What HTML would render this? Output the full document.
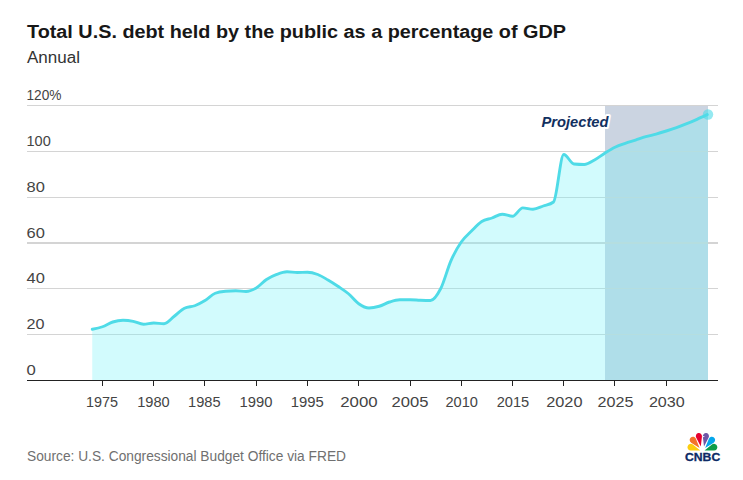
<!DOCTYPE html>
<html><head><meta charset="utf-8"><title>Total U.S. debt held by the public as a percentage of GDP</title>
<style>
html,body{margin:0;padding:0;background:#fff;}
body{width:743px;height:480px;overflow:hidden;position:relative;font-family:"Liberation Sans",sans-serif;}
svg{position:absolute;left:0;top:0;}
text{font-family:"Liberation Sans",sans-serif;}
</style></head><body>
<svg width="743" height="480" viewBox="0 0 743 480">
<rect width="743" height="480" fill="#ffffff"/>
<text x="27" y="38" font-size="18" font-weight="700" fill="#171717" textLength="539" lengthAdjust="spacingAndGlyphs">Total U.S. debt held by the public as a percentage of GDP</text>
<text x="27" y="63" font-size="16" fill="#333333" textLength="53" lengthAdjust="spacingAndGlyphs">Annual</text>
<rect x="605" y="105" width="103" height="275.5" fill="#cbd4e1"/>
<g stroke="#d4d4d4" stroke-width="1" shape-rendering="crispEdges"><line x1="27" x2="718" y1="105.5" y2="105.5"/><line x1="27" x2="718" y1="151.5" y2="151.5"/><line x1="27" x2="718" y1="197.5" y2="197.5"/><line x1="27" x2="718" y1="242.5" y2="242.5"/><line x1="27" x2="718" y1="243.5" y2="243.5"/><line x1="27" x2="718" y1="288.5" y2="288.5"/><line x1="27" x2="718" y1="334.5" y2="334.5"/></g>
<g font-size="14" fill="#444444"><text x="26.5" y="100.0" textLength="35.0" lengthAdjust="spacingAndGlyphs">120%</text><text x="26.5" y="146.0" textLength="24.2" lengthAdjust="spacingAndGlyphs">100</text><text x="26.5" y="192.0" textLength="18.3" lengthAdjust="spacingAndGlyphs">80</text><text x="26.5" y="237.5" textLength="18.3" lengthAdjust="spacingAndGlyphs">60</text><text x="26.5" y="283.0" textLength="18.3" lengthAdjust="spacingAndGlyphs">40</text><text x="26.5" y="329.0" textLength="18.0" lengthAdjust="spacingAndGlyphs">20</text><text x="26.5" y="374.5" textLength="9.3" lengthAdjust="spacingAndGlyphs">0</text></g>
<path d="M92.25,329.25C95.67,328.60,99.08,327.96,102.50,326.75C105.92,325.54,109.33,323.07,112.75,322.00C116.17,320.93,119.58,320.30,123.00,320.30C126.42,320.30,129.83,320.64,133.25,321.30C136.67,321.96,140.08,324.25,143.50,324.25C146.92,324.25,150.33,323.00,153.75,323.00C157.17,323.00,160.58,323.75,164.00,323.75C167.42,323.75,170.83,318.83,174.25,316.25C177.67,313.67,181.08,309.92,184.50,308.25C187.92,306.58,191.33,307.04,194.75,305.75C198.17,304.46,201.58,302.58,205.00,300.50C208.42,298.42,211.83,294.58,215.25,293.25C218.67,291.92,222.08,291.58,225.50,291.25C228.92,290.92,232.33,290.75,235.75,290.75C239.17,290.75,242.58,291.50,246.00,291.50C249.42,291.50,252.83,290.00,256.25,288.00C259.67,286.00,263.08,281.77,266.50,279.50C269.92,277.23,273.33,275.68,276.75,274.40C280.17,273.12,283.58,271.80,287.00,271.80C290.42,271.80,293.83,272.50,297.25,272.50C300.67,272.50,304.08,272.20,307.50,272.20C310.92,272.20,314.33,273.20,317.75,274.50C321.17,275.80,324.58,278.00,328.00,280.00C331.42,282.00,334.83,284.21,338.25,286.50C341.67,288.79,345.08,290.88,348.50,293.75C351.92,296.62,355.33,301.38,358.75,303.75C362.17,306.12,365.58,308.00,369.00,308.00C372.42,308.00,375.83,307.25,379.25,306.25C382.67,305.25,386.08,303.08,389.50,302.00C392.92,300.92,396.33,299.75,399.75,299.75C403.17,299.75,406.58,299.75,410.00,299.75C413.42,299.75,416.83,300.12,420.25,300.25C423.67,300.38,427.08,300.50,430.50,300.50C433.92,300.50,437.33,295.15,440.75,288.50C444.17,281.85,447.58,268.35,451.00,260.60C454.42,252.85,457.83,246.93,461.25,242.00C464.67,237.07,468.08,234.42,471.50,231.00C474.92,227.58,478.33,223.67,481.75,221.50C485.17,219.33,488.58,219.22,492.00,218.00C495.42,216.78,498.83,214.20,502.25,214.20C505.67,214.20,509.08,216.20,512.50,216.20C515.92,216.20,519.33,207.90,522.75,207.90C526.17,207.90,529.58,209.20,533.00,209.20C536.42,209.20,539.83,207.20,543.25,206.00C546.67,204.80,550.08,204.67,553.50,202.00C556.92,199.33,560.33,154.50,563.75,154.50C567.17,154.50,570.58,163.67,574.00,164.00C577.42,164.33,580.83,164.50,584.25,164.50C587.67,164.50,591.08,161.88,594.50,160.00C597.92,158.12,601.33,155.33,604.75,153.20C608.17,151.07,611.58,148.85,615.00,147.20C618.42,145.55,621.83,144.48,625.25,143.30C628.67,142.12,632.08,141.20,635.50,140.10C638.92,139.00,642.33,137.70,645.75,136.70C649.17,135.70,652.58,135.05,656.00,134.10C659.42,133.15,662.83,132.08,666.25,131.00C669.67,129.92,673.08,128.82,676.50,127.60C679.92,126.38,683.33,125.08,686.75,123.70C690.17,122.32,693.58,120.82,697.00,119.30C700.42,117.78,703.83,116.19,707.25,114.60L708,114.30L708,380.50L92.25,380.50Z" fill="#76f3f9" fill-opacity="0.33"/>
<path d="M92.25,329.25C95.67,328.60,99.08,327.96,102.50,326.75C105.92,325.54,109.33,323.07,112.75,322.00C116.17,320.93,119.58,320.30,123.00,320.30C126.42,320.30,129.83,320.64,133.25,321.30C136.67,321.96,140.08,324.25,143.50,324.25C146.92,324.25,150.33,323.00,153.75,323.00C157.17,323.00,160.58,323.75,164.00,323.75C167.42,323.75,170.83,318.83,174.25,316.25C177.67,313.67,181.08,309.92,184.50,308.25C187.92,306.58,191.33,307.04,194.75,305.75C198.17,304.46,201.58,302.58,205.00,300.50C208.42,298.42,211.83,294.58,215.25,293.25C218.67,291.92,222.08,291.58,225.50,291.25C228.92,290.92,232.33,290.75,235.75,290.75C239.17,290.75,242.58,291.50,246.00,291.50C249.42,291.50,252.83,290.00,256.25,288.00C259.67,286.00,263.08,281.77,266.50,279.50C269.92,277.23,273.33,275.68,276.75,274.40C280.17,273.12,283.58,271.80,287.00,271.80C290.42,271.80,293.83,272.50,297.25,272.50C300.67,272.50,304.08,272.20,307.50,272.20C310.92,272.20,314.33,273.20,317.75,274.50C321.17,275.80,324.58,278.00,328.00,280.00C331.42,282.00,334.83,284.21,338.25,286.50C341.67,288.79,345.08,290.88,348.50,293.75C351.92,296.62,355.33,301.38,358.75,303.75C362.17,306.12,365.58,308.00,369.00,308.00C372.42,308.00,375.83,307.25,379.25,306.25C382.67,305.25,386.08,303.08,389.50,302.00C392.92,300.92,396.33,299.75,399.75,299.75C403.17,299.75,406.58,299.75,410.00,299.75C413.42,299.75,416.83,300.12,420.25,300.25C423.67,300.38,427.08,300.50,430.50,300.50C433.92,300.50,437.33,295.15,440.75,288.50C444.17,281.85,447.58,268.35,451.00,260.60C454.42,252.85,457.83,246.93,461.25,242.00C464.67,237.07,468.08,234.42,471.50,231.00C474.92,227.58,478.33,223.67,481.75,221.50C485.17,219.33,488.58,219.22,492.00,218.00C495.42,216.78,498.83,214.20,502.25,214.20C505.67,214.20,509.08,216.20,512.50,216.20C515.92,216.20,519.33,207.90,522.75,207.90C526.17,207.90,529.58,209.20,533.00,209.20C536.42,209.20,539.83,207.20,543.25,206.00C546.67,204.80,550.08,204.67,553.50,202.00C556.92,199.33,560.33,154.50,563.75,154.50C567.17,154.50,570.58,163.67,574.00,164.00C577.42,164.33,580.83,164.50,584.25,164.50C587.67,164.50,591.08,161.88,594.50,160.00C597.92,158.12,601.33,155.33,604.75,153.20C608.17,151.07,611.58,148.85,615.00,147.20C618.42,145.55,621.83,144.48,625.25,143.30C628.67,142.12,632.08,141.20,635.50,140.10C638.92,139.00,642.33,137.70,645.75,136.70C649.17,135.70,652.58,135.05,656.00,134.10C659.42,133.15,662.83,132.08,666.25,131.00C669.67,129.92,673.08,128.82,676.50,127.60C679.92,126.38,683.33,125.08,686.75,123.70C690.17,122.32,693.58,120.82,697.00,119.30C700.42,117.78,703.83,116.19,707.25,114.60" fill="none" stroke="#4fdbe7" stroke-width="2.9" stroke-linejoin="round" stroke-linecap="round"/>
<circle cx="708" cy="114.5" r="5.2" fill="#4fdbe7" fill-opacity="0.6"/>
<g stroke="#222222" stroke-width="1" shape-rendering="crispEdges"><line x1="27" x2="718" y1="380.5" y2="380.5"/><line x1="102.50" x2="102.50" y1="380.5" y2="386"/><line x1="153.50" x2="153.50" y1="380.5" y2="386"/><line x1="204.50" x2="204.50" y1="380.5" y2="386"/><line x1="256.50" x2="256.50" y1="380.5" y2="386"/><line x1="307.50" x2="307.50" y1="380.5" y2="386"/><line x1="358.50" x2="358.50" y1="380.5" y2="386"/><line x1="410.50" x2="410.50" y1="380.5" y2="386"/><line x1="461.50" x2="461.50" y1="380.5" y2="386"/><line x1="512.50" x2="512.50" y1="380.5" y2="386"/><line x1="563.50" x2="563.50" y1="380.5" y2="386"/><line x1="614.50" x2="614.50" y1="380.5" y2="386"/><line x1="666.50" x2="666.50" y1="380.5" y2="386"/></g>
<g font-size="14" fill="#444444"><text x="85.90" y="406.5" textLength="32.00" lengthAdjust="spacingAndGlyphs">1975</text><text x="137.20" y="406.5" textLength="32.50" lengthAdjust="spacingAndGlyphs">1980</text><text x="188.10" y="406.5" textLength="32.50" lengthAdjust="spacingAndGlyphs">1985</text><text x="239.50" y="406.5" textLength="32.90" lengthAdjust="spacingAndGlyphs">1990</text><text x="290.80" y="406.5" textLength="33.00" lengthAdjust="spacingAndGlyphs">1995</text><text x="340.20" y="406.5" textLength="37.40" lengthAdjust="spacingAndGlyphs">2000</text><text x="391.60" y="406.5" textLength="36.90" lengthAdjust="spacingAndGlyphs">2005</text><text x="445.40" y="406.5" textLength="32.50" lengthAdjust="spacingAndGlyphs">2010</text><text x="496.70" y="406.5" textLength="32.50" lengthAdjust="spacingAndGlyphs">2015</text><text x="546.20" y="406.5" textLength="36.30" lengthAdjust="spacingAndGlyphs">2020</text><text x="597.50" y="406.5" textLength="35.90" lengthAdjust="spacingAndGlyphs">2025</text><text x="648.90" y="406.5" textLength="35.90" lengthAdjust="spacingAndGlyphs">2030</text></g>
<text x="541.5" y="127" font-size="14.4" font-weight="700" font-style="italic" fill="#ffffff" stroke="#ffffff" stroke-width="4" stroke-linejoin="round" textLength="67" lengthAdjust="spacingAndGlyphs">Projected</text>
<text x="541.5" y="127" font-size="14.4" font-weight="700" font-style="italic" fill="#12305f" textLength="67" lengthAdjust="spacingAndGlyphs">Projected</text>
<text x="27" y="461" font-size="14" fill="#707070" textLength="319" lengthAdjust="spacingAndGlyphs">Source: U.S. Congressional Budget Office via FRED</text>
<g><path d="M700.30,450.40L692.87,444.57A3.35,3.35,0,1,0,690.85,450.55Z" fill="#fccd0f"/><path d="M699.60,448.00L695.92,438.70A3.25,3.25,0,1,0,691.16,442.64Z" fill="#f37329"/><path d="M700.80,446.60L701.98,436.51A3.10,3.10,0,1,0,696.14,437.57Z" fill="#e6002f"/><path d="M704.00,446.60L708.66,437.57A3.10,3.10,0,1,0,702.82,436.51Z" fill="#6f56a6"/><path d="M705.20,448.00L713.64,442.64A3.25,3.25,0,1,0,708.88,438.70Z" fill="#05a6eb"/><path d="M704.50,450.40L713.95,450.55A3.35,3.35,0,1,0,711.93,444.57Z" fill="#0d9d48"/><path d="M702.9,435.9L705.0,436.5L703.1,437.3Z" fill="#ffffff"/></g>
<text x="685" y="460.8" font-size="11.8" font-weight="700" fill="#0d2a66" stroke="#0d2a66" stroke-width="0.3" textLength="35.2" lengthAdjust="spacingAndGlyphs">CNBC</text>
</svg>
</body></html>
